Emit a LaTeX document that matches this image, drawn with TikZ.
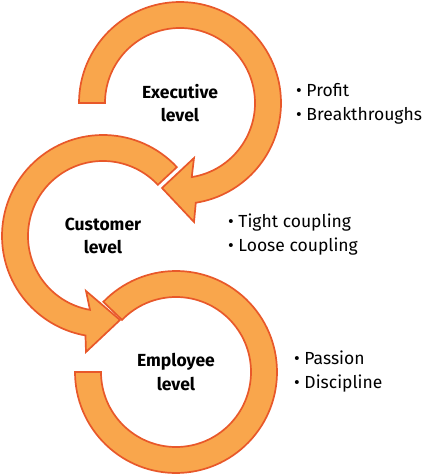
\documentclass[tikz,border=0pt]{standalone}
\usepackage{fontspec}
\setmainfont{Fira Sans}
\usetikzlibrary{calc}
\definecolor{loopFill}{RGB}{249,166,76}
\definecolor{loopEdge}{RGB}{232,88,42}
\begin{document}
\begin{tikzpicture}[
  x=1pt,y=1pt,
  loop/.style={fill=loopFill,draw=loopEdge,line width=1.7pt,line join=miter},
  level/.style={font=\fontsize{17.5}{23.5}\selectfont\bfseries,align=center,inner sep=0pt},
  points/.style={font=\fontsize{17.5}{24}\selectfont,align=left,anchor=west,inner sep=0pt}
]
\useasboundingbox (0,0) rectangle (426,474);

% ---- radii of the rings ----
\def\rO{101}
\def\rI{75}

% ---- ring centres ----
\coordinate (cE) at (180,371);  % executive
\coordinate (cC) at (103,238);  % customer
\coordinate (cP) at (176,102);  % employee

% ---- employee ring (no head) ----
\draw[loop] ($(cP)+(136:\rO)$) arc[start angle=136,end angle=-180,radius=\rO]
  -- ($(cP)+(180:\rI)$) arc[start angle=-180,end angle=136,radius=\rI] -- cycle;

% ---- customer ring, head pointing into the employee ring ----
\draw[loop] ($(cC)+(43:\rO)$) arc[start angle=43,end angle=260,radius=\rO]
  -- ($(cC)+(-17,-116)$) -- ($(cC)+(17,-84)$) -- ($(cC)+(-17,-55)$)
  -- ($(cC)+(260:\rI)$) arc[start angle=260,end angle=43,radius=\rI] -- cycle;

% ---- executive ring, head pointing into the customer ring ----
\draw[loop] ($(cE)+(180:\rO)$) arc[start angle=180,end angle=-81,radius=\rO]
  -- ($(cE)+(14,-119)$) -- ($(cE)+(-18,-85)$) -- ($(cE)+(14,-55)$)
  -- ($(cE)+(-81:\rI)$) arc[start angle=-81,end angle=180,radius=\rI] -- cycle;

% ---- level labels ----
\node[level] (execLvl) at (cE) {Executive\\level};
\node[level] (custLvl) at (cC) {Customer\\level};
\node[level] (emplLvl) at (cP) {Employee\\level};

% ---- bullet points ----
\node[points] (execList) at (296,370) {\textbullet\ Profit\\\textbullet\ Breakthroughs};
\node[points] (custList) at (228,239) {\textbullet\ Tight coupling\\\textbullet\ Loose coupling};
\node[points] (emplList) at (294,102) {\textbullet\ Passion\\\textbullet\ Discipline};

\end{tikzpicture}
\end{document}
